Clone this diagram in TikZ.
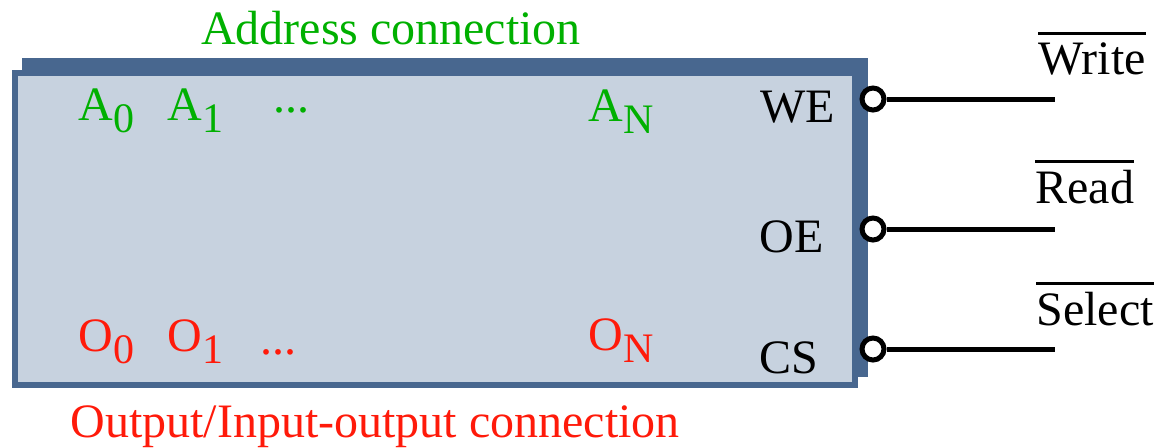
\documentclass[tikz,border=0pt]{standalone}
\usepackage{fontspec}
\setmainfont{Liberation Serif}
\usetikzlibrary{positioning}
\definecolor{chipedge}{RGB}{72,103,143}
\definecolor{chipfill}{RGB}{199,210,223}
\definecolor{addrgreen}{RGB}{0,176,0}
\definecolor{outred}{RGB}{255,26,10}
\newcommand{\idx}[1]{\raisebox{-6pt}{\fontsize{21}{21}\selectfont #1}}
\newcommand{\bartext}[1]{\vbox{\hrule height 1.5pt\kern 3.5pt\hbox{#1}}}

\begin{document}
\begin{tikzpicture}[
x=0.5pt,y=-0.5pt,
every node/.style={inner sep=0pt,font=\fontsize{24}{24}\selectfont},
txt/.style={anchor=base west},
addr/.style={txt,text=addrgreen},
outp/.style={txt,text=outred},
pin/.style={draw,circle,fill=white,line width=2.5pt,minimum size=11pt},
wire/.style={line width=2.5pt},
]
\useasboundingbox (0,0) rectangle (1163,447);

\fill[chipedge] (22,58) rectangle (868,377);
\draw[chipedge,fill=chipfill,line width=3pt] (15,73) rectangle (855,385);

\node[anchor=base,text=addrgreen] (addrlbl) at (391,44) {Address connection};
\node[anchor=base,text=outred] (outlbl) at (375,437) {Output/Input-output connection};

\node[addr] (a0) at (78,120) {A\idx{0}};
\node[addr] (a1) at (167,120) {A\idx{1}};
\node[addr] (adots) at (273,112) {...};
\node[addr] (an) at (588,121) {A\idx{N}};

\node[outp] (o0) at (78,351) {O\idx{0}};
\node[outp] (o1) at (167,351) {O\idx{1}};
\node[outp] (odots) at (260,354) {...};
\node[outp] (on) at (588,350) {O\idx{N}};

\node[txt] (we) at (760,122) {WE};
\node[txt] (oe) at (759,252) {OE};
\node[txt] (cs) at (759,373) {CS};

\node[pin] (wepin) at (873,99) {};
\node[pin] (oepin) at (873,229) {};
\node[pin] (cspin) at (873,349) {};

\coordinate (weend) at (1055,99);
\coordinate (oeend) at (1055,229);
\coordinate (csend) at (1055,349);

\draw[wire] (wepin) -- (weend);
\draw[wire] (oepin) -- (oeend);
\draw[wire] (cspin) -- (csend);

\node[txt] (wrlbl) at (1038,74) {\bartext{Write}};
\node[txt] (rdlbl) at (1035,203) {\bartext{Read}};
\node[txt] (sellbl) at (1036,325) {\bartext{Select}};

\end{tikzpicture}
\end{document}
